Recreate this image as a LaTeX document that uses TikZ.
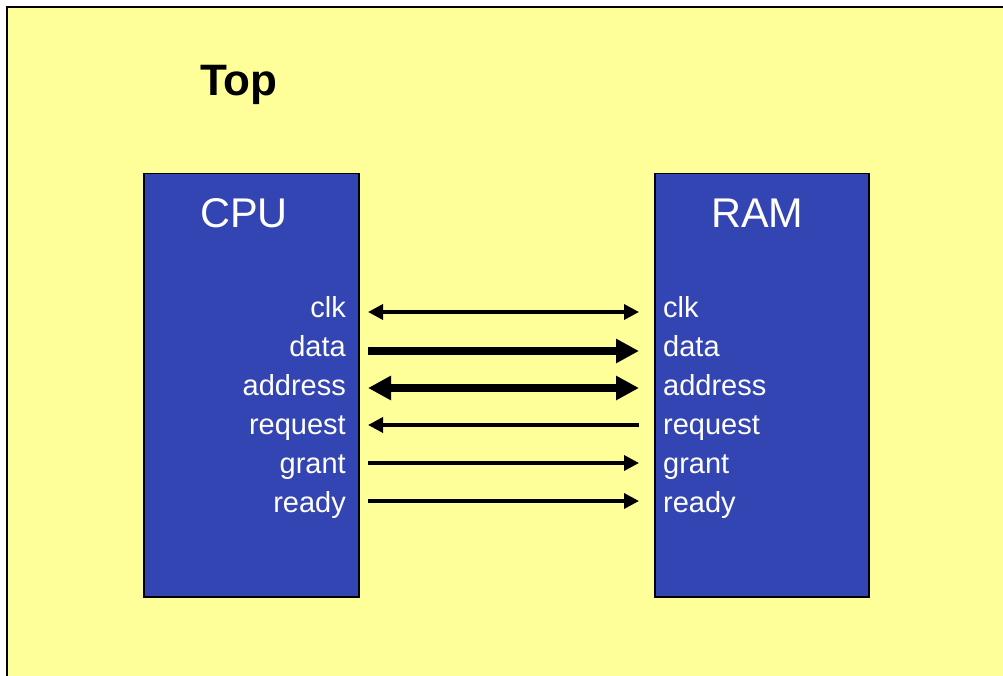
\documentclass[tikz,border=0pt]{standalone}
\usepackage{fontspec}
\setmainfont{Liberation Sans}
\usetikzlibrary{arrows.meta}
\definecolor{bgyellow}{HTML}{FFFF99}
\definecolor{boxblue}{HTML}{3344B3}
\tikzset{
  block/.style={draw=black, line width=1.5pt, fill=boxblue},
  title/.style={text=white, font=\fontsize{41.5}{41.5}\selectfont, inner sep=0pt},
  sig/.style={text=white, font=\fontsize{29}{29}\selectfont, inner sep=0pt},
  thinwire/.style={line width=3.5pt, draw=black},
  thickwire/.style={line width=7.5pt, draw=black},
  thinhead/.tip={Triangle[length=15pt,width=15pt]},
  thickhead/.tip={Triangle[length=23pt,width=23pt]},
}
\begin{document}
\begin{tikzpicture}[x=1pt,y=-1pt]
\useasboundingbox (0,0) rectangle (1003,676);
\clip (0,0) rectangle (1003,676);
\fill[white] (0,0) rectangle (1003,676);
\draw[fill=bgyellow, line width=2pt] (7,7) rectangle (1020,700);
\node[anchor=base west, inner sep=0pt, font=\bfseries\fontsize{44}{44}\selectfont] (top) at (200,96) {Top};
\node[block, anchor=north west, minimum width=215pt, minimum height=423pt, inner sep=0pt] (cpu) at (143,173) {};
\node[block, anchor=north west, minimum width=214pt, minimum height=423pt, inner sep=0pt] (ram) at (654,173) {};
\node[title, anchor=base west] (cputitle) at (200,228) {CPU};
\node[title, anchor=base west] (ramtitle) at (711,228) {RAM};
% signal labels
\foreach \n/\t/\y in {clk/clk/317, data/data/356, address/address/395, request/request/434, grant/grant/473, ready/ready/512}{
  \node[sig, anchor=base east] (c\n) at (346,\y) {\t};
  \node[sig, anchor=base west] (r\n) at (663,\y) {\t};
}
% arrow end points
\foreach \n/\y in {clk/312, data/351, address/388, request/425, grant/463, ready/501}{
  \coordinate (a\n) at (368,\y);
  \coordinate (b\n) at (639,\y);
}
\draw[thinwire, thinhead-thinhead] (aclk) -- (bclk);
\draw[thickwire, -thickhead] (adata) -- (bdata);
\draw[thickwire, thickhead-thickhead] (aaddress) -- (baddress);
\draw[thinwire, thinhead-] (arequest) -- (brequest);
\draw[thinwire, -thinhead] (agrant) -- (bgrant);
\draw[thinwire, -thinhead] (aready) -- (bready);
\end{tikzpicture}
\end{document}
